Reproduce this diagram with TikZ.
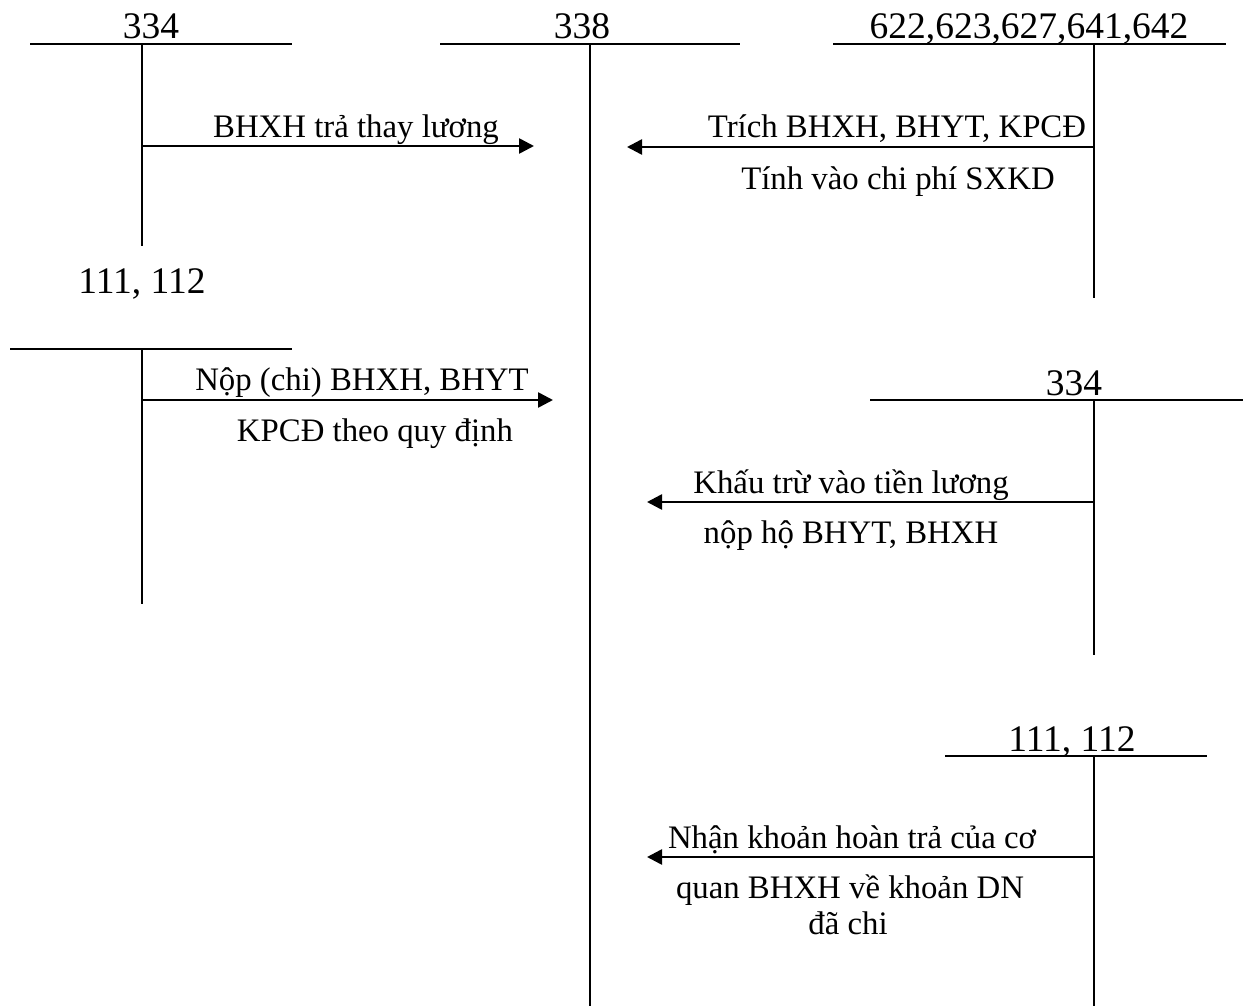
\documentclass[tikz,border=0pt]{standalone}
\usepackage{fontspec}
\setmainfont{Liberation Serif}
\usetikzlibrary{arrows.meta}
\tikzset{
  acct/.style={line width=1.6pt},
  flow/.style={line width=2.6pt,-{Triangle[length=15pt,width=15pt]}},
  hdr/.style={anchor=base,inner sep=0pt,font=\fontsize{37.5}{42}\selectfont},
  lbl/.style={anchor=base,inner sep=0pt,font=\fontsize{32.8}{38}\selectfont},
}
\begin{document}
\begin{tikzpicture}[x=1pt,y=-1pt]
\useasboundingbox (0,0) rectangle (1252,1006);
% ---- account 334 (top left)
\coordinate (a1L) at (30,44); \coordinate (a1R) at (292,44);
\coordinate (a1T) at (142,44); \coordinate (a1B) at (142,246);
\draw[acct] (a1L) -- (a1R); \draw[acct] (a1T) -- (a1B);
\node[hdr] (h1) at (151,39) {334};
% ---- account 338
\coordinate (a2L) at (440,44); \coordinate (a2R) at (740,44);
\coordinate (a2T) at (590,44); \coordinate (a2B) at (590,1006);
\draw[acct] (a2L) -- (a2R); \draw[acct] (a2T) -- (a2B);
\node[hdr] (h2) at (582,39) {338};
% ---- account 622...
\coordinate (a3L) at (833,44); \coordinate (a3R) at (1226,44);
\coordinate (a3T) at (1094,44); \coordinate (a3B) at (1094,298);
\draw[acct] (a3L) -- (a3R); \draw[acct] (a3T) -- (a3B);
\node[hdr] (h3) at (1029,39) {622,623,627,641,642};
% ---- account 111,112 (left)
\node[hdr] (h4) at (142,293) {111, 112};
\coordinate (a4L) at (10,349); \coordinate (a4R) at (292,349);
\coordinate (a4T) at (142,349); \coordinate (a4B) at (142,604);
\draw[acct] (a4L) -- (a4R); \draw[acct] (a4T) -- (a4B);
% ---- account 334 (right)
\coordinate (a5L) at (870,400); \coordinate (a5R) at (1243,400);
\coordinate (a5T) at (1094,400); \coordinate (a5B) at (1094,655);
\draw[acct] (a5L) -- (a5R); \draw[acct] (a5T) -- (a5B);
\node[hdr] (h5) at (1074,395) {334};
% ---- account 111,112 (right)
\coordinate (a6L) at (945,756); \coordinate (a6R) at (1207,756);
\coordinate (a6T) at (1094,756); \coordinate (a6B) at (1094,1006);
\draw[acct] (a6L) -- (a6R); \draw[acct] (a6T) -- (a6B);
\node[hdr] (h6) at (1072,751) {111, 112};
% ---- flows
\coordinate (f1s) at (142,146); \coordinate (f1e) at (534,146);
\draw[flow] (f1s) -- (f1e);
\node[lbl] (l1) at (356,137) {BHXH trả thay lương};

\coordinate (f2s) at (1094,147); \coordinate (f2e) at (627,147);
\draw[flow] (f2s) -- (f2e);
\node[lbl] (l2a) at (897,137) {Trích BHXH, BHYT, KPCĐ};
\node[lbl] (l2b) at (898,189) {Tính vào chi phí SXKD};

\coordinate (f3s) at (142,400); \coordinate (f3e) at (553,400);
\draw[flow] (f3s) -- (f3e);
\node[lbl] (l3a) at (362,390) {Nộp (chi) BHXH, BHYT};
\node[lbl] (l3b) at (375,441) {KPCĐ theo quy định};

\coordinate (f4s) at (1094,502); \coordinate (f4e) at (647,502);
\draw[flow] (f4s) -- (f4e);
\node[lbl] (l4a) at (851,493) {Khấu trừ vào tiền lương};
\node[lbl] (l4b) at (851,543) {nộp hộ BHYT, BHXH};

\coordinate (f5s) at (1094,857); \coordinate (f5e) at (647,857);
\draw[flow] (f5s) -- (f5e);
\node[lbl] (l5a) at (852,848) {Nhận khoản hoàn trả của cơ};
\node[lbl] (l5b) at (850,898) {quan BHXH về khoản DN};
\node[lbl] (l5c) at (848,934) {đã chi};
\end{tikzpicture}
\end{document}
